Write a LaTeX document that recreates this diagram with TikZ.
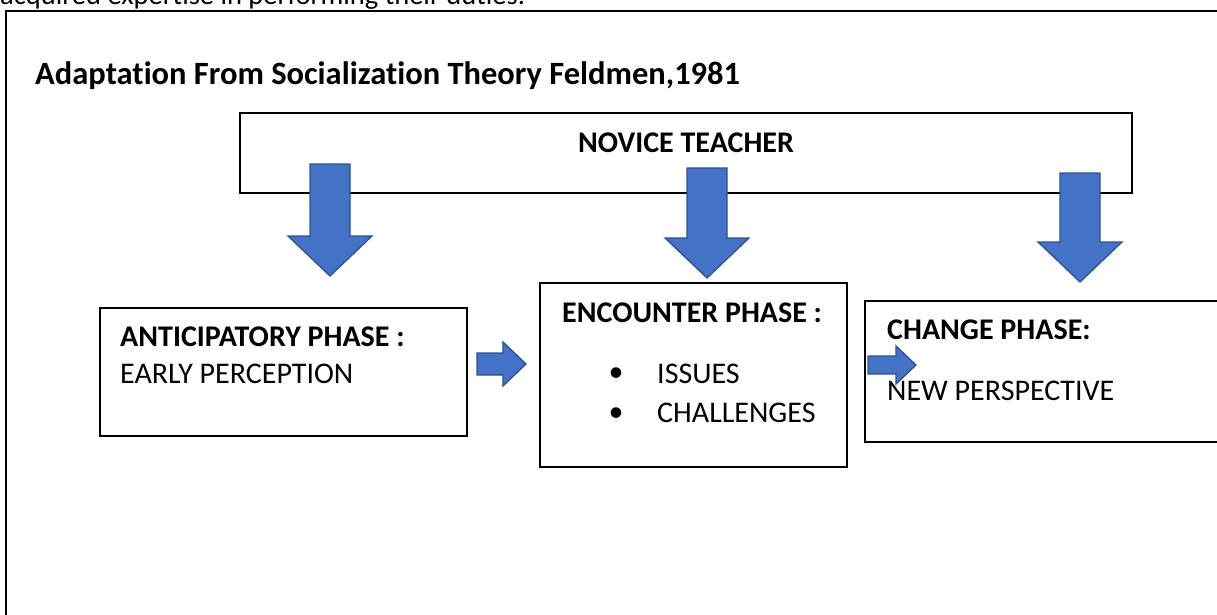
\documentclass[tikz,border=0pt]{standalone}
\usepackage{fontspec}
\setmainfont{Carlito}[Ligatures=NoCommon]
\usetikzlibrary{positioning}
\definecolor{arrfill}{HTML}{4472C4}
\definecolor{arrline}{HTML}{2F528F}

% block arrows (pixel units, y downwards)
\newcommand{\dnarrow}[3]{% centre x, top y, tip y
  \filldraw[blockarr] ({#1-20},#2) -- ({#1+20},#2) -- ({#1+20},{#3-40}) -- ({#1+42},{#3-40})
    -- (#1,#3) -- ({#1-42},{#3-40}) -- ({#1-20},{#3-40}) -- cycle;}
\newcommand{\rtarrow}[6]{% left x, tip x, centre y, shaft half, head half, head length
  \filldraw[blockarr] (#1,{#3-#4}) -- ({#2-#6},{#3-#4}) -- ({#2-#6},{#3-#5}) -- (#2,#3)
    -- ({#2-#6},{#3+#5}) -- ({#2-#6},{#3+#4}) -- (#1,{#3+#4}) -- cycle;}

\begin{document}
\begin{tikzpicture}[
    x=1pt, y=-1pt,
    every node/.style={font=\fontsize{30}{36}\selectfont, inner sep=0pt},
    phase/.style={draw, line width=1.4pt, fill=white, minimum width=#1},
    head/.style={font=\fontsize{30}{36}\selectfont\bfseries, anchor=base west},
    item/.style={anchor=base west},
    blockarr/.style={fill=arrfill, draw=arrline, line width=1.3pt, line join=miter}
]
\useasboundingbox (0,0) rectangle (1217,615);
\begin{scope}
\clip (0,0) rectangle (1217,615);

% page text above the frame
\node[item, font=\fontsize{28.5}{34}\selectfont] (pagetext) at (0,5) {acquired expertise in performing their duties.};

% frame and title
\draw[line width=1.8pt] (6,11) rectangle (1240,640);
\node[head, font=\fontsize{32.5}{38}\selectfont\bfseries] (title) at (35,85) {Adaptation From Socialization Theory Feldmen,1981};

% novice teacher
\node[phase=892pt, minimum height=80pt] (novice) at (686,153) {};
\node[font=\fontsize{30}{36}\selectfont\bfseries, anchor=base] (novicetxt) at (686,152) {NOVICE TEACHER};

% arrows down
\dnarrow{330}{164}{276}
\dnarrow{707}{168}{278}
\dnarrow{1080}{173}{282}

% anticipatory phase
\node[phase=367pt, minimum height=128pt] (antic) at (283.5,372) {};
\node[head] (antichead) at (120,346) {ANTICIPATORY PHASE :};
\node[item] (antictxt) at (120,383) {EARLY PERCEPTION};

% encounter phase
\node[phase=307pt, minimum height=184pt] (encount) at (693.5,375) {};
\node[head] (encounthead) at (562,322) {ENCOUNTER PHASE :};
\node[anchor=center] (bulA) at (616,375) {•};
\node[anchor=center] (bulB) at (616,415) {•};
\node[item] (issues) at (657,383) {ISSUES};
\node[item] (challeng) at (657,422) {CHALLENGES};

% change phase
\node[phase=380pt, minimum height=141pt] (change) at (1055,371.5) {};
\node[head] (changehead) at (887,339) {CHANGE PHASE:};
\node[item] (changetxt) at (887,400) {NEW PERSPECTIVE};

% arrows right
\rtarrow{477}{526}{364}{11}{22}{23}
\rtarrow{868}{916}{365}{9}{19}{20}
\end{scope}
\end{tikzpicture}
\end{document}
